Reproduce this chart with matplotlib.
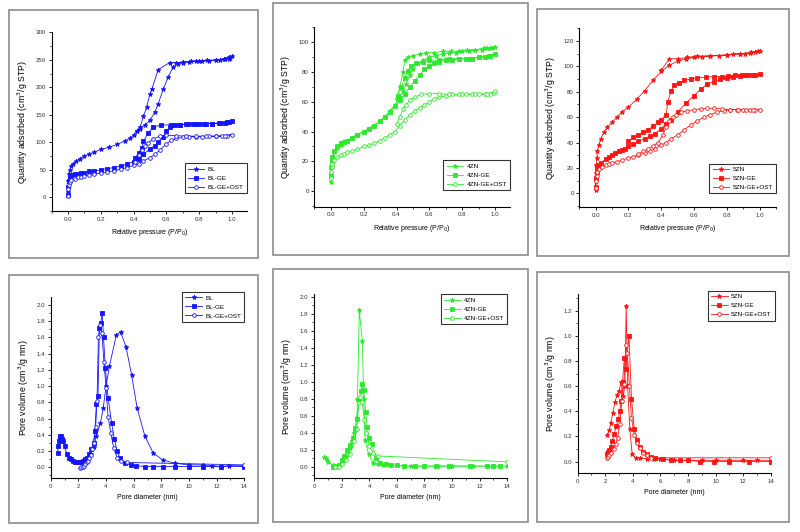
import matplotlib
matplotlib.use("Agg")
import matplotlib.pyplot as plt
from matplotlib.patches import Rectangle
from matplotlib.ticker import MultipleLocator, FormatStrFormatter

plt.rcParams['font.family'] = ['Liberation Sans', 'DejaVu Sans']

BLUE = '#1414ff'
GREEN = '#2ee82e'
RED = '#ff1414'

# ---------------- Panel (a): BL isotherms ----------------
bl_p = [0.0, 0.002, 0.005, 0.01, 0.02, 0.03, 0.05, 0.07, 0.1, 0.13, 0.16, 0.2, 0.25, 0.3, 0.35, 0.38,
        0.4, 0.42, 0.44, 0.47, 0.5, 0.53, 0.55, 0.58, 0.61, 0.64, 0.67, 0.7, 0.74, 0.78, 0.82, 0.86,
        0.9, 0.93, 0.96, 0.98, 0.99, 1.0,
        0.98, 0.95, 0.9, 0.85, 0.8, 0.75, 0.7, 0.66, 0.62, 0.55, 0.51, 0.5, 0.48, 0.46, 0.44, 0.42]
bl_q = [10, 30, 42, 50, 56, 60, 66, 70, 75, 79, 82, 87, 91, 96, 103, 108,
        113, 120, 125, 132, 140, 155, 170, 196, 218, 236, 243, 245, 246, 247, 248, 248,
        249, 250, 251, 252, 254, 256,
        255, 252, 250, 249, 248, 247, 246, 245, 245, 232, 196, 188, 165, 147, 128, 120]

blge_p = [0.0, 0.002, 0.005, 0.01, 0.02, 0.04, 0.06, 0.08, 0.1, 0.13, 0.16, 0.2, 0.24, 0.28, 0.32,
          0.36, 0.4, 0.43, 0.46, 0.5, 0.53, 0.55, 0.58, 0.6, 0.62, 0.65, 0.68, 0.72, 0.76, 0.8,
          0.84, 0.88, 0.92, 0.96, 0.98, 1.0,
          0.97, 0.93, 0.88, 0.83, 0.78, 0.73, 0.68, 0.63, 0.57, 0.52, 0.49, 0.46, 0.45, 0.43, 0.41]
blge_q = [5, 18, 30, 35, 40, 42, 43, 44, 45, 47, 48, 50, 52, 54, 57,
          60, 65, 70, 78, 88, 94, 100, 110, 120, 128, 131, 132, 133, 133, 134,
          134, 134, 135, 135, 136, 138,
          136, 135, 134, 134, 133, 133, 132, 132, 131, 128, 117, 102, 90, 80, 72]

blgeo_p = [0.0, 0.002, 0.005, 0.01, 0.02, 0.04, 0.06, 0.08, 0.1, 0.13, 0.16, 0.2, 0.24, 0.28, 0.32,
           0.36, 0.4, 0.43, 0.46, 0.5, 0.53, 0.56, 0.6, 0.63, 0.66, 0.7, 0.74, 0.78, 0.82, 0.86,
           0.9, 0.94, 0.97, 1.0,
           0.96, 0.9, 0.84, 0.78, 0.72, 0.66, 0.6, 0.56, 0.52, 0.49, 0.47, 0.45, 0.43, 0.41]
blgeo_q = [2, 15, 22, 28, 31, 34, 36, 37, 39, 40, 42, 44, 46, 48, 51,
           54, 58, 61, 66, 72, 78, 86, 97, 104, 107, 109, 110, 110, 110, 111,
           111, 111, 112, 114,
           112, 111, 111, 111, 111, 112, 113, 111, 106, 99, 93, 86, 76, 65]

# ---------------- Panel (b): 4ZN isotherms ----------------
zn4_p = [0.0, 0.002, 0.005, 0.01, 0.02, 0.04, 0.06, 0.08, 0.1, 0.13, 0.16, 0.2, 0.23, 0.26, 0.3,
         0.33, 0.36, 0.39, 0.42, 0.44, 0.46, 0.48, 0.5, 0.53, 0.56, 0.6, 0.64, 0.68, 0.72, 0.76,
         0.8, 0.84, 0.88, 0.92, 0.95, 0.98, 1.0,
         0.97, 0.93, 0.88, 0.83, 0.78, 0.73, 0.68, 0.63, 0.58, 0.54, 0.5, 0.47, 0.45, 0.44, 0.42, 0.4]
zn4_q = [6, 12, 17, 21, 26, 29, 31, 33, 34, 36, 38, 40, 42, 44, 47,
         50, 54, 58, 63, 67, 72, 78, 82, 86, 88, 90, 91, 92, 93, 93,
         94, 94, 95, 95, 96, 96, 97,
         96, 96, 95, 95, 94, 94, 94, 93, 93, 92, 91, 90, 88, 80, 70, 62]

zn4ge_p = [0.0, 0.002, 0.005, 0.01, 0.02, 0.04, 0.06, 0.08, 0.1, 0.13, 0.16, 0.2, 0.23, 0.26, 0.3,
           0.33, 0.36, 0.39, 0.42, 0.45, 0.48, 0.51, 0.54, 0.57, 0.6, 0.63, 0.66, 0.7, 0.74, 0.78,
           0.82, 0.86, 0.9, 0.94, 0.97, 1.0,
           0.96, 0.9, 0.84, 0.78, 0.72, 0.66, 0.6, 0.56, 0.52, 0.49, 0.47, 0.45, 0.43, 0.41]
zn4ge_q = [10, 16, 20, 23, 27, 30, 32, 33, 34, 36, 38, 40, 42, 44, 47,
           50, 53, 57, 61, 65, 70, 74, 78, 82, 84, 86, 87, 88, 88, 89,
           89, 89, 90, 90, 91, 92,
           91, 90, 89, 89, 89, 88, 88, 87, 86, 84, 81, 76, 70, 64]

zn4geo_p = [0.0, 0.002, 0.005, 0.01, 0.02, 0.04, 0.06, 0.08, 0.1, 0.13, 0.16, 0.2, 0.23, 0.26, 0.3,
            0.33, 0.36, 0.39, 0.42, 0.45, 0.48, 0.51, 0.54, 0.57, 0.6, 0.63, 0.66, 0.7, 0.74, 0.78,
            0.82, 0.86, 0.9, 0.94, 0.97, 0.99, 1.0,
            0.95, 0.88, 0.8, 0.72, 0.66, 0.6, 0.55, 0.51, 0.48, 0.46, 0.44, 0.42, 0.4]
zn4geo_q = [9, 13, 16, 18, 21, 23, 24, 25, 26, 27, 28, 30, 31, 32, 34,
            36, 38, 40, 44, 48, 51, 54, 56, 58, 60, 62, 63, 64, 65, 65,
            65, 65, 65, 65, 65, 66, 67,
            65, 65, 65, 65, 65.5, 65.5, 65, 63, 61, 58, 55, 50, 45]

# ---------------- Panel (c): 5ZN isotherms ----------------
zn5_p = [0.0, 0.001, 0.002, 0.004, 0.007, 0.01, 0.02, 0.03, 0.05, 0.07, 0.1, 0.13, 0.16, 0.2, 0.25,
         0.3, 0.35, 0.4, 0.45, 0.5, 0.55, 0.6, 0.65, 0.7, 0.75, 0.8, 0.84, 0.88, 0.91, 0.94,
         0.97, 0.99, 1.0,
         0.95, 0.88, 0.8, 0.7, 0.62, 0.56, 0.5, 0.45, 0.4]
zn5_q = [3, 10, 16, 22, 28, 33, 38, 43, 48, 52, 56, 60, 64, 68, 74,
         81, 89, 96, 101, 104, 106, 107, 107.5, 108, 108.5, 109, 109.5, 110, 110, 110.5,
         111, 112, 112,
         111, 110, 109, 108.5, 108, 107, 106, 106, 97]

zn5ge_p = [0.0, 0.002, 0.005, 0.01, 0.02, 0.03, 0.06, 0.08, 0.1, 0.12, 0.14, 0.16, 0.18, 0.2, 0.23,
           0.26, 0.3, 0.33, 0.36, 0.4, 0.43, 0.46, 0.5, 0.55, 0.6, 0.64, 0.68, 0.72, 0.76, 0.8,
           0.84, 0.88, 0.92, 0.96, 1.0,
           0.97, 0.93, 0.89, 0.85, 0.81, 0.77, 0.72, 0.67, 0.62, 0.58, 0.54, 0.51, 0.48, 0.46, 0.44,
           0.43, 0.4, 0.38, 0.35, 0.32, 0.29, 0.26, 0.23, 0.2]
zn5ge_q = [5, 12, 17, 20, 22, 24, 27, 29, 30, 32, 33, 34, 35, 37, 39,
           41, 43, 45, 47, 51, 55, 58, 64, 71, 77, 82, 86, 88, 90, 91,
           92, 92.5, 93, 93.5, 94,
           93.5, 93, 93, 93, 92.5, 92, 92, 91.5, 91, 90, 89, 87, 85, 81, 72,
           62, 58, 56, 53, 50, 48, 46, 44, 41]

zn5geo_p = [0.0, 0.002, 0.005, 0.01, 0.02, 0.04, 0.06, 0.08, 0.1, 0.13, 0.16, 0.2, 0.23, 0.26, 0.3,
            0.33, 0.36, 0.4, 0.43, 0.46, 0.5, 0.54, 0.58, 0.62, 0.66, 0.7, 0.74, 0.78, 0.82, 0.86,
            0.9, 0.94, 0.97, 1.0,
            0.96, 0.92, 0.87, 0.82, 0.77, 0.72, 0.68, 0.64, 0.6, 0.56, 0.52, 0.49, 0.47, 0.45, 0.43,
            0.41, 0.38, 0.35, 0.32, 0.29, 0.26]
zn5geo_q = [4, 10, 14, 17, 19, 21, 22, 23, 24, 25, 26, 28, 29, 30, 32,
            33, 35, 38, 40, 43, 46, 50, 54, 57, 60, 62, 64, 65, 66, 66,
            66, 66, 66, 66,
            66, 66, 66, 66, 66.5, 67, 67, 66.5, 66, 65, 64, 62, 60, 57, 52,
            46, 40, 37, 35, 33, 31]

# ---------------- Panel (d): BL pore size distribution ----------------
bl_d = [2.0, 2.4, 2.7, 2.9, 3.1, 3.3, 3.6, 3.8, 4.0, 4.25, 4.75, 5.05, 5.45, 5.85, 6.25,
        6.8, 7.4, 8.1, 9.0, 10.0, 11.0, 11.7, 12.3, 12.9, 14.0]
bl_v = [0.06, 0.08, 0.12, 0.17, 0.25, 0.38, 0.55, 0.73, 1.0, 1.25, 1.63, 1.67, 1.48, 1.14, 0.73,
        0.39, 0.18, 0.09, 0.05, 0.03, 0.03, 0.02, 0.01, 0.02, 0.02]

blge_d = [0.5, 0.55, 0.6, 0.65, 0.7, 0.75, 0.8, 0.9, 1.0, 1.15, 1.3, 1.45, 1.6, 1.75, 1.9,
          2.05, 2.2, 2.35, 2.5, 2.65, 2.8, 2.95, 3.1, 3.2, 3.3, 3.42, 3.52, 3.62, 3.72, 3.82,
          3.95, 4.15, 4.4, 4.6, 4.8, 5.0, 5.4, 5.8, 6.2, 6.8, 7.4, 8.1, 9.0, 10.0, 11.0, 12.3, 14.0]
blge_v = [0.18, 0.26, 0.33, 0.37, 0.39, 0.38, 0.35, 0.33, 0.26, 0.17, 0.12, 0.1, 0.08, 0.07, 0.06,
          0.06, 0.07, 0.08, 0.1, 0.12, 0.16, 0.22, 0.3, 0.45, 0.78, 0.88, 1.72, 1.78, 1.9, 1.6,
          1.22, 0.86, 0.55, 0.35, 0.2, 0.12, 0.05, 0.03, 0.02, 0.01, 0.01, 0.01, 0.01, 0.01, 0.01, 0.01, 0.01]

blgeo_d = [2.1, 2.2, 2.3, 2.4, 2.5, 2.6, 2.7, 2.8, 2.9, 3.0, 3.1, 3.25, 3.35, 3.45, 3.55,
           3.7, 3.85, 4.0, 4.15, 4.35, 4.55, 4.8, 5.1, 5.5, 14.0]
blgeo_v = [-0.01, 0.0, 0.01, 0.02, 0.04, 0.06, 0.08, 0.11, 0.15, 0.22, 0.3, 0.5, 0.82, 1.6, 1.75,
           1.65, 1.3, 0.98, 0.62, 0.42, 0.24, 0.12, 0.08, 0.06, 0.03]

# ---------------- Panel (e): 4ZN pore size distribution ----------------
zn4_d = [0.75, 0.85, 0.95, 1.05, 1.4, 1.55, 1.7, 1.85, 2.0, 2.15, 2.3, 2.45, 2.6, 2.75, 2.9,
         3.0, 3.1, 3.15, 3.28, 3.5, 3.6, 3.7, 3.95, 4.3, 4.6, 5.0, 5.5, 6.0, 7.0, 8.0,
         9.0, 10.0, 11.5, 13.0, 14.0]
zn4_v = [0.12, 0.1, 0.08, 0.06, 0.02, 0.01, 0.0, 0.02, 0.05, 0.08, 0.12, 0.16, 0.22, 0.3, 0.4,
         0.47, 0.58, 0.8, 1.84, 1.48, 0.8, 0.32, 0.15, 0.05, 0.03, 0.02, 0.02, 0.02, 0.01, 0.01,
         0.01, 0.01, 0.01, 0.01, 0.01]

zn4ge_d = [1.4, 1.6, 1.8, 2.0, 2.2, 2.4, 2.6, 2.8, 3.0, 3.1, 3.25, 3.4, 3.5, 3.6, 3.75,
           3.85, 4.0, 4.2, 4.5, 4.8, 5.2, 5.6, 6.0, 6.5, 7.3, 8.0, 8.8, 9.8, 11.3, 12.5,
           13.0, 13.5]
zn4ge_v = [0.0, 0.01, 0.02, 0.08, 0.13, 0.2, 0.26, 0.34, 0.45, 0.56, 0.77, 0.89, 0.97, 0.9, 0.65,
           0.47, 0.34, 0.27, 0.1, 0.05, 0.03, 0.02, 0.02, 0.01, 0.01, 0.01, 0.01, 0.01, 0.01, 0.01,
           0.01, 0.01]

zn4geo_d = [1.5, 1.8, 2.0, 2.3, 2.6, 2.9, 3.1, 3.25, 3.35, 3.5, 3.65, 3.8, 4.0, 4.3, 4.6, 14.0]
zn4geo_v = [0.0, 0.0, 0.03, 0.08, 0.15, 0.3, 0.45, 0.75, 0.82, 0.76, 0.55, 0.4, 0.25, 0.16, 0.13, 0.06]

# ---------------- Panel (f): 5ZN pore size distribution ----------------
zn5_d = [2.15, 2.3, 2.4, 2.55, 2.7, 2.85, 3.0, 3.15, 3.3, 3.42, 3.52, 3.62, 3.78, 3.95, 4.2,
         4.5, 5.0, 5.5, 6.0, 7.0, 8.0, 9.0, 10.0, 11.0, 12.0, 13.0, 14.0]
zn5_v = [0.21, 0.25, 0.31, 0.39, 0.47, 0.53, 0.56, 0.63, 0.52, 0.6, 1.24, 0.6, 0.26, 0.06, 0.03,
         0.03, 0.02, 0.02, 0.02, 0.01, 0.01, 0.01, 0.01, 0.01, 0.01, 0.01, 0.01]

zn5ge_d = [2.1, 2.2, 2.3, 2.4, 2.5, 2.65, 2.8, 2.95, 3.05, 3.15, 3.25, 3.38, 3.5, 3.72, 3.9,
           4.1, 4.3, 4.5, 4.75, 5.0, 5.3, 5.6, 6.2, 6.8, 7.4, 8.0, 8.9, 9.9, 11.0, 12.4, 14.0]
zn5ge_v = [0.06, 0.08, 0.09, 0.12, 0.16, 0.22, 0.28, 0.34, 0.4, 0.48, 0.63, 0.82, 0.74, 1.0, 0.5,
           0.26, 0.17, 0.12, 0.08, 0.06, 0.04, 0.03, 0.02, 0.01, 0.01, 0.01, 0.0, 0.0, 0.0, 0.0, 0.0]

zn5geo_d = [2.1, 2.2, 2.3, 2.45, 2.6, 2.75, 2.9, 3.05, 3.2, 3.35, 3.5, 3.6, 3.75, 3.9, 4.1,
            4.3, 4.5, 4.75, 5.0, 5.3, 14.0]
zn5geo_v = [0.03, 0.04, 0.05, 0.07, 0.1, 0.14, 0.19, 0.3, 0.48, 0.62, 0.93, 0.86, 0.6, 0.35, 0.21,
            0.15, 0.11, 0.07, 0.05, 0.03, 0.03]

W, H = 800, 532
fig = plt.figure(figsize=(8.0, 5.32), dpi=100)


def px_axes(l, r, t, b):
    return fig.add_axes([l / W, 1 - b / H, (r - l) / W, (b - t) / H])


def frame(x0, x1, y0, y1):
    fig.patches.append(Rectangle((x0 / W, 1 - y1 / H), (x1 - x0) / W, (y1 - y0) / H,
                                 transform=fig.transFigure, fill=False,
                                 edgecolor='#8c8c8c', linewidth=1.2))


frame(9, 258, 10, 258)
frame(273, 528, 3, 255)
frame(537, 789, 9, 256)
frame(9, 258, 275, 523)
frame(273, 528, 269, 522)
frame(537, 789, 272, 522)

TICK_FS = 4.4
XLAB_FS = 5.0
YLAB_FS = 6.3


def style(ax, xlim, ylim, xmaj, xmin, ymaj, ymin, xfmt, yfmt):
    ax.set_xlim(*xlim)
    ax.set_ylim(*ylim)
    ax.spines['top'].set_visible(False)
    ax.spines['right'].set_visible(False)
    for s in ('left', 'bottom'):
        ax.spines[s].set_linewidth(0.8)
    ax.xaxis.set_major_locator(MultipleLocator(xmaj))
    ax.xaxis.set_minor_locator(MultipleLocator(xmin))
    ax.yaxis.set_major_locator(MultipleLocator(ymaj))
    ax.yaxis.set_minor_locator(MultipleLocator(ymin))
    ax.xaxis.set_major_formatter(FormatStrFormatter(xfmt))
    ax.yaxis.set_major_formatter(FormatStrFormatter(yfmt))
    ax.tick_params(which='major', direction='out', length=2.5, width=0.6,
                   labelsize=TICK_FS, pad=1.5, colors='black', labelcolor='#333333')
    ax.tick_params(which='minor', direction='out', length=1.5, width=0.5)
    ax.patch.set_visible(False)


def series(ax, x, y, color, marker, label, ms, filled=True):
    ax.plot(x, y, color=color, lw=0.6, marker=marker, ms=ms, mew=0.6,
            mfc=color if filled else 'white', mec=color, label=label)


def legend(ax, loc, anchor):
    lg = ax.legend(loc=loc, bbox_to_anchor=anchor, fontsize=4.6, frameon=True,
                   fancybox=False, edgecolor='black', handlelength=2.6,
                   handletextpad=0.5, borderpad=0.5, labelspacing=0.55,
                   borderaxespad=0.0)
    lg.get_frame().set_linewidth(0.8)
    lg.get_frame().set_facecolor('white')


iso_ylabel = 'Quantity adsorbed (cm$^3$/g STP)'
iso_xlabel = 'Relative pressure (P/P$_0$)'
psd_ylabel = 'Pore volume (cm$^3$/g nm)'
psd_xlabel = 'Pore diameter (nm)'

MS_STAR, MS_SQ, MS_CIR = 3.5, 2.5, 2.6

# ---- (a)
ax = px_axes(51.7, 246.7, 32.3, 211)
series(ax, bl_p, bl_q, BLUE, '*', 'BL', MS_STAR)
series(ax, blge_p, blge_q, BLUE, 's', 'BL-GE', MS_SQ)
series(ax, blgeo_p, blgeo_q, BLUE, 'o', 'BL-GE+OST', MS_CIR, filled=False)
style(ax, (-0.1, 1.09), (-25, 300), 0.2, 0.1, 50, 25, '%.1f', '%d')
ax.set_xlabel(iso_xlabel, fontsize=XLAB_FS, labelpad=4)
ax.set_ylabel(iso_ylabel, fontsize=YLAB_FS, labelpad=4)
legend(ax, 'lower right', (1.0, 0.10))

# ---- (b)
ax = px_axes(314.3, 510, 26.7, 206.7)
series(ax, zn4_p, zn4_q, GREEN, '*', '4ZN', MS_STAR)
series(ax, zn4ge_p, zn4ge_q, GREEN, 's', '4ZN-GE', MS_SQ)
series(ax, zn4geo_p, zn4geo_q, GREEN, 'o', '4ZN-GE+OST', MS_CIR, filled=False)
style(ax, (-0.1, 1.09), (-10.5, 110.5), 0.2, 0.1, 20, 10, '%.1f', '%d')
ax.set_xlabel(iso_xlabel, fontsize=XLAB_FS, labelpad=4)
ax.set_ylabel(iso_ylabel, fontsize=YLAB_FS, labelpad=4)
legend(ax, 'lower right', (1.0, 0.093))

# ---- (c)
ax = px_axes(579.3, 776, 28.3, 207.3)
series(ax, zn5_p, zn5_q, RED, '*', '5ZN', MS_STAR)
series(ax, zn5ge_p, zn5ge_q, RED, 's', '5ZN-GE', MS_SQ)
series(ax, zn5geo_p, zn5geo_q, RED, 'o', '5ZN-GE+OST', MS_CIR, filled=False)
style(ax, (-0.1, 1.1), (-11, 130), 0.2, 0.1, 20, 10, '%.1f', '%d')
ax.set_xlabel(iso_xlabel, fontsize=XLAB_FS, labelpad=4)
ax.set_ylabel(iso_ylabel, fontsize=YLAB_FS, labelpad=4)
legend(ax, 'lower right', (1.0, 0.078))

# ---- (d)
ax = px_axes(50.7, 244.3, 297.3, 478.3)
series(ax, bl_d, bl_v, BLUE, '*', 'BL', MS_STAR)
series(ax, blge_d, blge_v, BLUE, 's', 'BL-GE', MS_SQ)
series(ax, blgeo_d, blgeo_v, BLUE, 'o', 'BL-GE+OST', MS_CIR, filled=False)
style(ax, (0, 14), (-0.135, 2.094), 2, 1, 0.2, 0.1, '%d', '%.1f')
ax.set_xlabel(psd_xlabel, fontsize=XLAB_FS, labelpad=4)
ax.set_ylabel(psd_ylabel, fontsize=YLAB_FS, labelpad=4)
legend(ax, 'upper right', (1.0, 1.03))

# ---- (e)
ax = px_axes(314, 507.3, 294.3, 478.3)
series(ax, zn4_d, zn4_v, GREEN, '*', '4ZN', MS_STAR)
series(ax, zn4ge_d, zn4ge_v, GREEN, 's', '4ZN-GE', MS_SQ)
series(ax, zn4geo_d, zn4geo_v, GREEN, 'o', '4ZN-GE+OST', MS_CIR, filled=False)
style(ax, (0, 14), (-0.133, 2.03), 2, 1, 0.2, 0.1, '%d', '%.1f')
ax.set_xlabel(psd_xlabel, fontsize=XLAB_FS, labelpad=4)
ax.set_ylabel(psd_ylabel, fontsize=YLAB_FS, labelpad=4)
legend(ax, 'upper right', (1.0, 1.0))

# ---- (f)
ax = px_axes(577.7, 770.7, 294.3, 473.3)
series(ax, zn5_d, zn5_v, RED, '*', '5ZN', MS_STAR)
series(ax, zn5ge_d, zn5ge_v, RED, 's', '5ZN-GE', MS_SQ)
series(ax, zn5geo_d, zn5geo_v, RED, 'o', '5ZN-GE+OST', MS_CIR, filled=False)
style(ax, (0, 14), (-0.093, 1.33), 2, 1, 0.2, 0.1, '%d', '%.1f')
ax.set_xlabel(psd_xlabel, fontsize=XLAB_FS, labelpad=4)
ax.set_ylabel(psd_ylabel, fontsize=YLAB_FS, labelpad=4)
legend(ax, 'upper right', (1.02, 1.02))

fig.savefig('out.png', dpi=100, facecolor='white')
